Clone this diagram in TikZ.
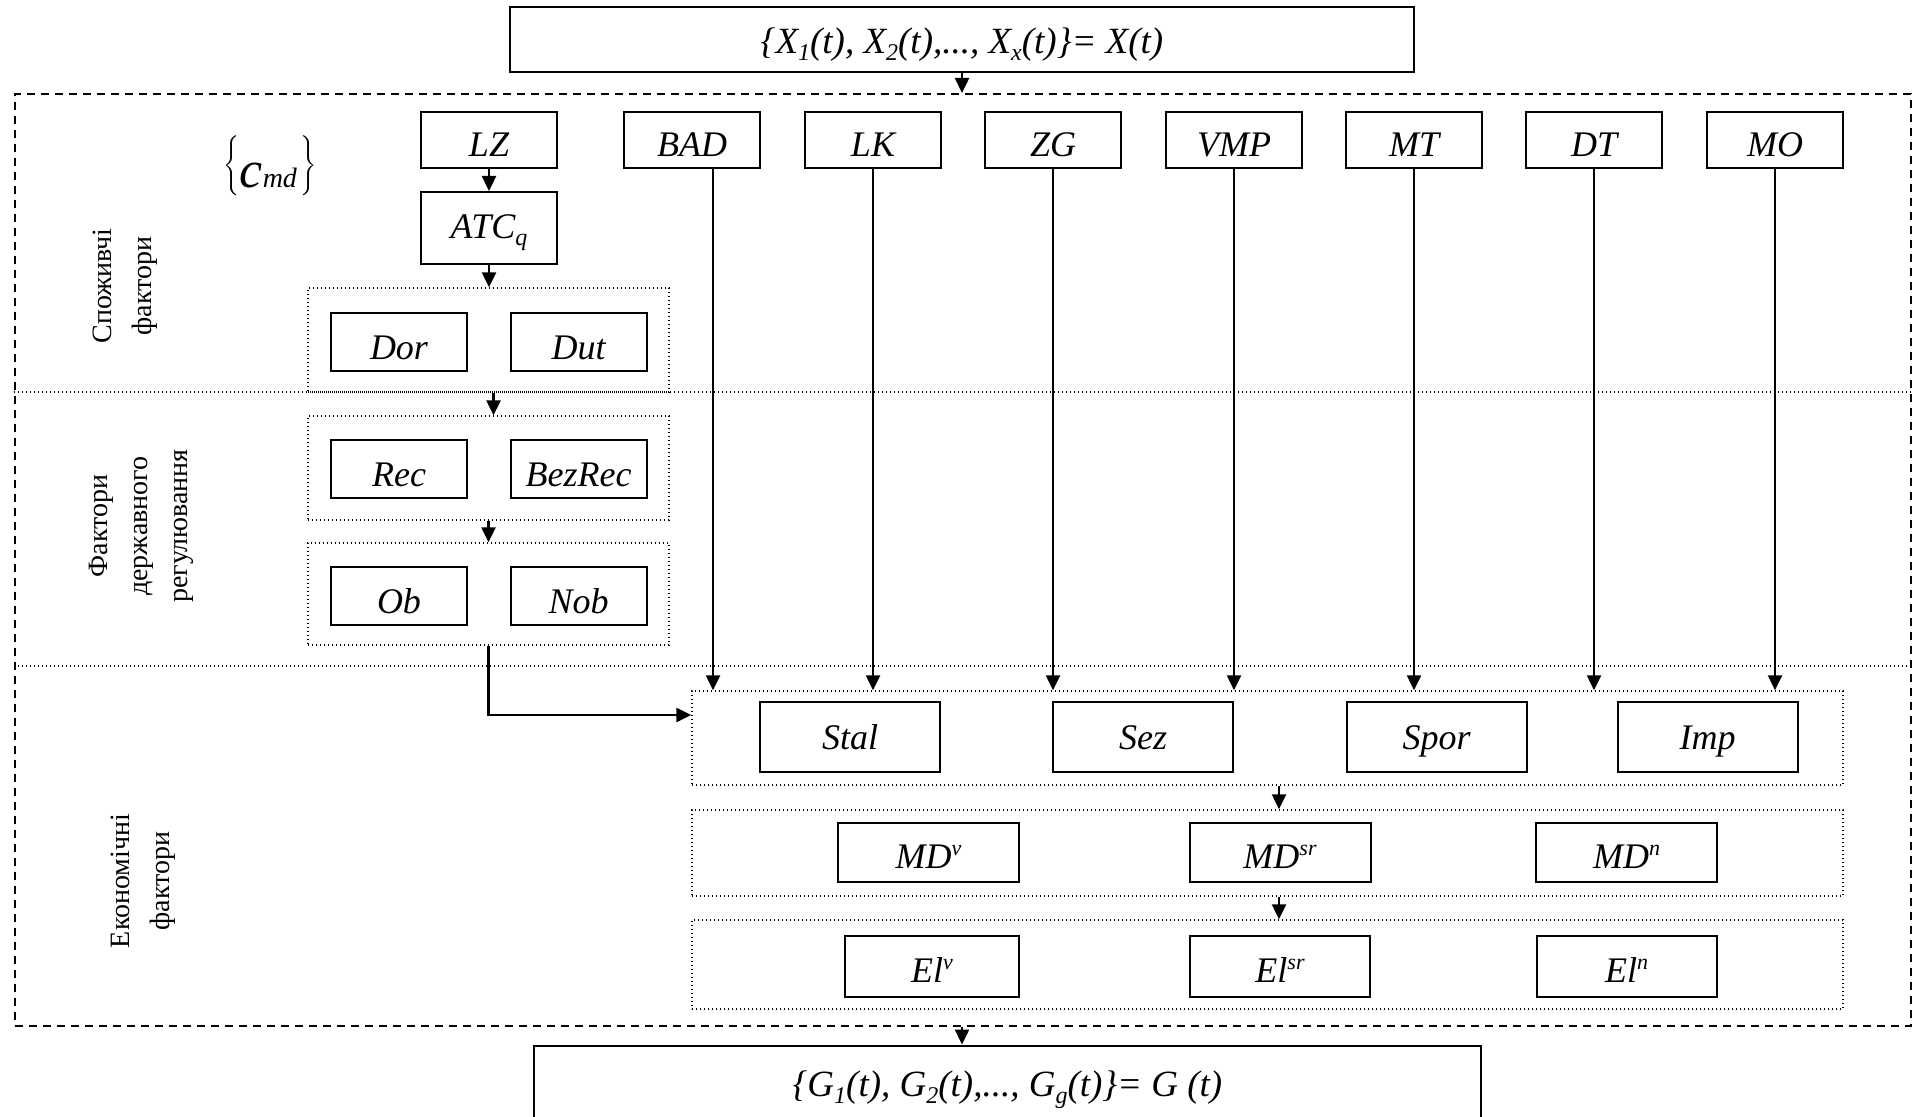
\documentclass[tikz,border=0pt]{standalone}
\usepackage{fontspec}
\setmainfont{Liberation Serif}
\usetikzlibrary{arrows.meta,calc}
\newcommand\lowidx[1]{\raisebox{-3.5pt}{\fontsize{12}{12}\selectfont #1}}
\newcommand\upidx[1]{\raisebox{6.5pt}{\fontsize{11}{11}\selectfont #1}}
\begin{document}
\begin{tikzpicture}[x=0.5pt,y=-0.5pt,
  lbl/.style={font=\fontsize{18}{20}\selectfont\itshape},
  fbox/.style={draw,line width=1pt,inner sep=0pt,lbl},
  setbox/.style={fbox,font=\fontsize{18.5}{20}\selectfont\itshape,text height=18pt,text depth=4pt},
  topbox/.style={fbox,minimum width=68pt,minimum height=28pt,text height=17pt,text depth=0pt},
  smallbox/.style={fbox,minimum width=68pt,minimum height=29pt,text height=17pt,text depth=0pt},
  wbox/.style={fbox,minimum width=90pt,minimum height=35pt,text height=12.5pt,text depth=0pt},
  mdbox/.style={fbox,minimum width=90.5pt,minimum height=29.5pt,text height=15.6pt,text depth=0pt},
  elbox/.style={fbox,minimum width=90pt,minimum height=30.5pt,text height=15.8pt,text depth=0pt},
  grp/.style={draw,line width=0.7pt,dash pattern=on 0.7pt off 1.3pt,inner sep=0pt},
  framebox/.style={draw,line width=1pt,dash pattern=on 4pt off 3pt,inner sep=0pt},
  sepline/.style={line width=0.7pt,dash pattern=on 0.7pt off 1.3pt},
  arr/.style={line width=1.2pt,-{Triangle[length=7.5pt,width=7pt]}},
  side/.style={rotate=90,align=center,font=\fontsize{14}{20}\selectfont}
]
\useasboundingbox (0,0) rectangle (1915,1117);

% input and output sets
\node[setbox,minimum width=452pt,minimum height=32.5pt] (xset) at (962,39.5)
  {\{X\lowidx{1}(t), X\lowidx{2}(t),..., X\lowidx{x}(t)\}= X(t)};
\node[setbox,minimum width=473.5pt,minimum height=36.5pt] (gset) at (1007.5,1082)
  {\{G\lowidx{1}(t), G\lowidx{2}(t),..., G\lowidx{g}(t)\}= G (t)};

% outer frame and the three factor bands
\node[framebox,minimum width=948pt,minimum height=466pt] (frame) at (963,560) {};
\coordinate (s1) at (0,392);
\coordinate (s2) at (0,666);
\draw[sepline] (frame.west |- s1) -- (frame.east |- s1);
\draw[sepline] (frame.west |- s2) -- (frame.east |- s2);

\node[side] (lcons) at (125,286) {Споживчі\\фактори};
\node[side] (lgov) at (141,526) {Фактори\\державного\\регулювання};
\node[side] (lecon) at (143,881) {Економічні\\фактори};

\node (cmd) at (270,167) {$\left\{\vrule height 14pt depth 14pt width 0pt
  \raisebox{-8.5pt}{\fontsize{26}{26}\selectfont\itshape c\fontsize{14}{14}\selectfont md}\,\right\}$};

% top row of factors
\node[topbox] (lz)  at (489,140)  {LZ};
\node[topbox] (bad) at (692,140)  {BAD};
\node[topbox] (lk)  at (873,140)  {LK};
\node[topbox] (zg)  at (1053,140) {ZG};
\node[topbox] (vmp) at (1234,140) {VMP};
\node[topbox] (mt)  at (1414,140) {MT};
\node[topbox] (dt)  at (1594,140) {DT};
\node[topbox] (mo)  at (1775,140) {MO};

\node[fbox,minimum width=68pt,minimum height=36pt,text height=14pt,text depth=3pt] (atc) at (489,228) {ATC\lowidx{q}};

% consumer and regulation groups
\node[grp,minimum width=180.5pt,minimum height=52pt] (gdor) at (488.5,340) {};
\node[smallbox] (dor) at (399,342)   {Dor};
\node[smallbox] (dut) at (578.5,342) {Dut};

\node[grp,minimum width=180.5pt,minimum height=52pt] (grec) at (488.5,468) {};
\node[smallbox] (rec)    at (399,469)   {Rec};
\node[smallbox] (bezrec) at (578.5,469) {BezRec};

\node[grp,minimum width=180.5pt,minimum height=51pt] (gob) at (488.5,594) {};
\node[smallbox] (ob)  at (399,596)   {Ob};
\node[smallbox] (nob) at (578.5,596) {Nob};

% economic groups
\node[grp,minimum width=575.5pt,minimum height=47pt] (gst) at (1267.5,738) {};
\node[wbox] (stal) at (850,737)    {Stal};
\node[wbox] (sez)  at (1143,737)   {Sez};
\node[wbox] (spor) at (1436.5,737) {Spor};
\node[wbox] (imp)  at (1707.5,737) {Imp};

\node[grp,minimum width=575.5pt,minimum height=43pt] (gmd) at (1267.5,853) {};
\node[mdbox] (mdv)  at (928.5,852.5)  {MD\upidx{v}};
\node[mdbox] (mdsr) at (1280,852.5)   {MD\upidx{sr}};
\node[mdbox] (mdn)  at (1626.5,852.5) {MD\upidx{n}};

\node[grp,minimum width=575.5pt,minimum height=44.5pt] (gel) at (1267.5,964.5) {};
\node[elbox,minimum width=87pt] (elv) at (932,966.5) {El\upidx{v}};
\node[elbox] (elsr) at (1280,966.5)   {El\upidx{sr}};
\node[elbox] (eln)  at (1626.5,966.5) {El\upidx{n}};

% connectors
\draw[arr] (xset.south) -- (xset.south |- frame.north);
\draw[arr] (lz) -- (atc);
\draw[arr] (atc.south) -- (atc.south |- gdor.north);
\draw[arr] ($(gdor.south)+(5,0)$) -- ($(grec.north)+(5,0)$);
\draw[arr] (grec.south) -- (gob.north);
\coordinate (turn) at (0,715);
\draw[arr] (gob.south) |- (gst.west |- turn);

\coordinate (badx) at (713,0);
\draw[arr] (bad.south -| badx) -- (gst.north -| badx);
\foreach \n in {lk,zg,vmp,mt,dt,mo}
  \draw[arr] (\n.south) -- (\n.south |- gst.north);

\coordinate (mdx) at (1279,0);
\draw[arr] (gst.south -| mdx) -- (gmd.north -| mdx);
\draw[arr] (gmd.south -| mdx) -- (gel.north -| mdx);
\draw[arr] (frame.south -| xset) -- (gset.north -| xset);
\end{tikzpicture}
\end{document}
